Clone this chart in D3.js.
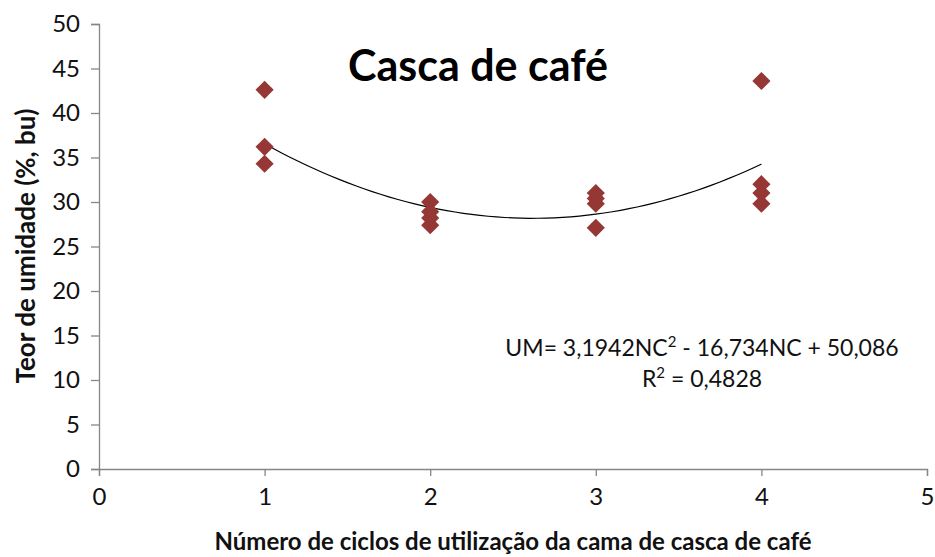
<!DOCTYPE html>
<html>
<head>
<meta charset="utf-8">
<script src="https://cdn.jsdelivr.net/npm/d3@7"></script>
<style>
  body { margin: 0; background: #fff; }
  svg { display: block; font-family: Lato, "Open Sans", sans-serif; }
</style>
</head>
<body>
<div id="chart"></div>
<script>
// Data
var cycles = [1, 1, 1, 2, 2, 2, 2, 3, 3, 3, 3, 4, 4, 4, 4];
var moisture = [42.6, 36.2, 34.3, 30.0, 28.9, 28.2, 27.4, 31.0, 30.4, 29.8, 27.1, 43.6, 32.0, 31.0, 29.8];
var xTicks = [0, 1, 2, 3, 4, 5];
var yTicks = [0, 5, 10, 15, 20, 25, 30, 35, 40, 45, 50];
// quadratic fit coefficients shown on the chart
var fitCoef = [50.086, -16.734, 3.1942];

var width = 935, height = 557;
var margin = { left: 99, right: 8, top: 24, bottom: 88 };

var svg = d3.select('#chart').append('svg')
  .attr('width', width)
  .attr('height', height);

var x = d3.scaleLinear().domain([0, 5]).range([margin.left, width - margin.right]);
var y = d3.scaleLinear().domain([0, 50]).range([height - margin.bottom, margin.top]);

var axisColor = '#868686';
var textColor = '#111';

// Y axis
var yAxis = svg.append('g')
  .attr('transform', 'translate(' + margin.left + ',0)')
  .call(d3.axisLeft(y).tickValues(yTicks).tickFormat(d3.format('d')).tickSize(8).tickPadding(11));

// X axis
var xAxis = svg.append('g')
  .attr('transform', 'translate(0,' + y(0) + ')')
  .call(d3.axisBottom(x).tickValues(xTicks).tickFormat(d3.format('d')).tickSize(7).tickPadding(12));

[yAxis, xAxis].forEach(function (a) {
  a.attr('font-family', 'Lato, "Open Sans", sans-serif').attr('font-size', 24);
  a.selectAll('text').attr('fill', textColor);
  a.select('.domain').attr('stroke', axisColor).attr('stroke-width', 1.3);
  a.selectAll('line').attr('stroke', axisColor).attr('stroke-width', 1.3);
});

// Trend line
var fitX = d3.range(1, 4.001, 0.05);
var line = d3.line()
  .x(function (d) { return x(d); })
  .y(function (d) { return y(fitCoef[0] + fitCoef[1] * d + fitCoef[2] * d * d); })
  .curve(d3.curveMonotoneX);

svg.append('path')
  .datum(fitX)
  .attr('d', line)
  .attr('fill', 'none')
  .attr('stroke', '#000')
  .attr('stroke-width', 1.2);

// Points (diamonds)
var diamond = d3.symbol().type(d3.symbolSquare).size(165);
svg.append('g')
  .selectAll('path')
  .data(cycles)
  .join('path')
  .attr('d', diamond)
  .attr('transform', function (d, i) {
    return 'translate(' + x(d) + ',' + y(moisture[i]) + ') rotate(45)';
  })
  .attr('fill', '#953735');

// Title
svg.append('text')
  .attr('x', 478)
  .attr('y', 81)
  .attr('text-anchor', 'middle')
  .attr('font-size', 43)
  .attr('font-weight', 'bold')
  .attr('fill', '#000')
  .text('Casca de café');

// Equation
var eq = svg.append('text')
  .attr('x', 702)
  .attr('y', 356)
  .attr('text-anchor', 'middle')
  .attr('font-size', 23)
  .attr('fill', textColor);
eq.append('tspan').text('UM= 3,1942NC');
eq.append('tspan').attr('font-size', 15).attr('dy', -9).text('2');
eq.append('tspan').attr('dy', 9).text(' - 16,734NC + 50,086');

var r2 = svg.append('text')
  .attr('x', 702)
  .attr('y', 387)
  .attr('text-anchor', 'middle')
  .attr('font-size', 23)
  .attr('fill', textColor);
r2.append('tspan').text('R');
r2.append('tspan').attr('font-size', 15).attr('dy', -9).text('2');
r2.append('tspan').attr('dy', 9).text(' = 0,4828');

// Axis titles
svg.append('text')
  .attr('transform', 'translate(35,246) rotate(-90)')
  .attr('text-anchor', 'middle')
  .attr('font-size', 26)
  .attr('font-weight', 'bold')
  .attr('fill', textColor)
  .text('Teor de umidade (%, bu)');

svg.append('text')
  .attr('x', 513)
  .attr('y', 550)
  .attr('text-anchor', 'middle')
  .attr('font-size', 24)
  .attr('font-weight', 'bold')
  .attr('fill', textColor)
  .text('Número de ciclos de utilização da cama de casca de café');
</script>
</body>
</html>
